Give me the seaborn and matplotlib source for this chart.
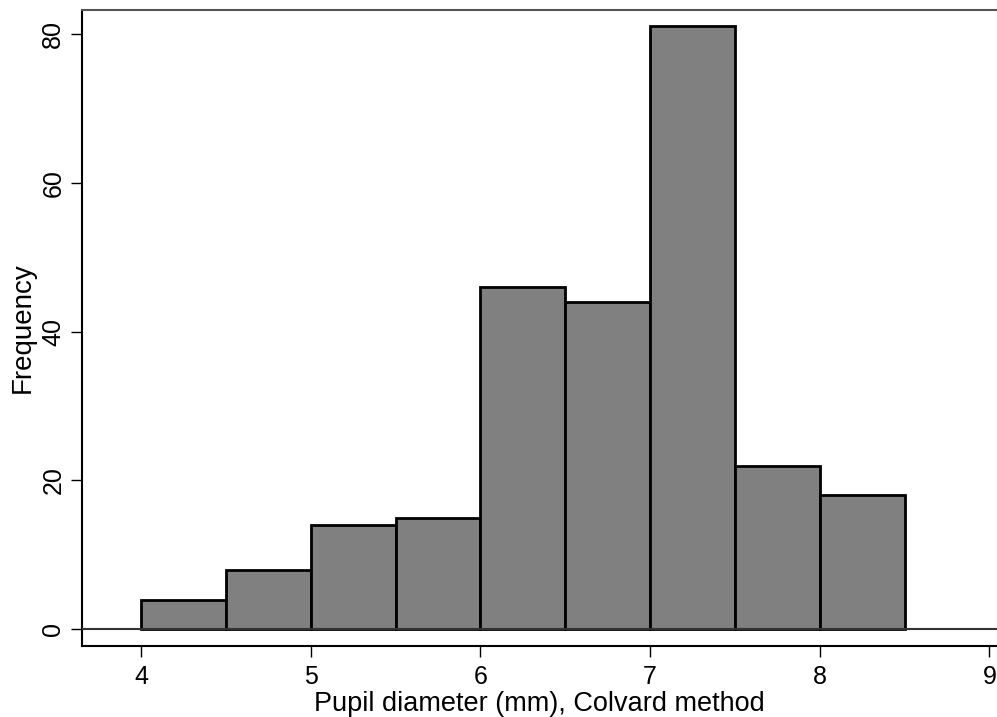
import matplotlib
matplotlib.use("Agg")
import matplotlib.pyplot as plt
import seaborn as sns
import numpy as np

bin_edges = [4.0, 4.5, 5.0, 5.5, 6.0, 6.5, 7.0, 7.5, 8.0, 8.5]
counts = [4, 8, 14, 15, 46, 44, 81, 22, 18]
x_ticks = [4, 5, 6, 7, 8, 9]
y_ticks = [0, 20, 40, 60, 80]

sns.set_style("white")
plt.rcParams['font.family'] = ['Liberation Sans', 'DejaVu Sans']
plt.rcParams['text.color'] = 'black'
plt.rcParams['axes.labelcolor'] = 'black'
plt.rcParams['xtick.color'] = 'black'
plt.rcParams['ytick.color'] = 'black'

fig = plt.figure(figsize=(9.97, 7.17), dpi=100)
ax = fig.add_axes([0.0822, 0.0994, 0.9178, 0.986 - 0.0994])

centers = [(a + b) / 2 for a, b in zip(bin_edges[:-1], bin_edges[1:])]
sns.histplot(x=centers, weights=counts, bins=bin_edges, ax=ax,
             color="#808080", alpha=1.0, edgecolor="black", linewidth=2)
ax.axhline(0, color="#333333", lw=1.5, zorder=3)

ax.set_xlim(3.652, 9.045)
ax.set_ylim(-2.2, 83.18)
ax.set_xticks(x_ticks)
ax.set_yticks(y_ticks)
ax.tick_params(axis='both', direction='out', length=8, width=1, colors='black',
               labelsize=18, left=True, bottom=True)
ax.tick_params(axis='x', pad=6)
ax.tick_params(axis='y', pad=4)
for lab in ax.get_yticklabels():
    lab.set_rotation(90)
    lab.set_va('center')
ax.set_xlabel("Pupil diameter (mm), Colvard method", fontsize=19.5, labelpad=1,
              color='black')
ax.set_ylabel("Frequency", fontsize=20, labelpad=4, color='black')

for s in ['left', 'bottom']:
    ax.spines[s].set_color('black')
    ax.spines[s].set_linewidth(1.5)
ax.spines['top'].set_color('#555555')
ax.spines['top'].set_linewidth(1.5)
ax.spines['right'].set_visible(False)

fig.savefig("out.png", dpi=100)
